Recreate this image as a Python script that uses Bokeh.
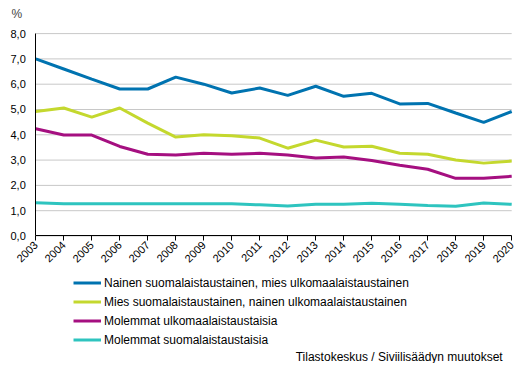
from bokeh.plotting import figure
from bokeh.models import Range1d, FixedTicker, Legend, LegendItem, Label, CustomJSTickFormatter, AllLabels
from bokeh.embed import file_html
from bokeh.resources import INLINE
import math

years = list(range(2003, 2021))
nainen_suomi = [7.0, 6.6, 6.2, 5.81, 5.81, 6.28, 6.0, 5.65, 5.85, 5.56, 5.92, 5.52, 5.64, 5.22, 5.24, 4.86, 4.49, 4.92]
mies_suomi = [4.92, 5.06, 4.7, 5.06, 4.46, 3.91, 4.0, 3.96, 3.87, 3.47, 3.79, 3.52, 3.55, 3.27, 3.23, 3.0, 2.88, 2.96]
molemmat_ulko = [4.24, 3.99, 3.99, 3.54, 3.23, 3.2, 3.27, 3.23, 3.27, 3.2, 3.08, 3.12, 2.98, 2.8, 2.64, 2.28, 2.28, 2.36]
molemmat_suomi = [1.31, 1.27, 1.27, 1.27, 1.27, 1.27, 1.27, 1.27, 1.23, 1.19, 1.25, 1.25, 1.29, 1.25, 1.21, 1.18, 1.3, 1.25]
names = ["Nainen suomalaistaustainen, mies ulkomaalaistaustainen",
         "Mies suomalaistaustainen, nainen ulkomaalaistaustainen",
         "Molemmat ulkomaalaistaustaisia",
         "Molemmat suomalaistaustaisia"]
colors = ["#0073b0", "#c4d82e", "#a50f80", "#2ec4bf"]
y_ticks = [0, 1, 2, 3, 4, 5, 6, 7, 8]
source_text = "Tilastokeskus / Siviilisäädyn muutokset"

FONT = "Liberation Sans"
# the frame is widened/extended so the legend, source and tick labels sit inside it
X_MIN, X_MAX = 2001.74, 2020.35
Y_MIN, Y_MAX = -5.04, 8.32

p = figure(width=521, height=370, output_backend="svg", toolbar_location=None,
           x_range=Range1d(X_MIN, X_MAX), y_range=Range1d(Y_MIN, Y_MAX),
           min_border_left=0, min_border_right=0, min_border_top=10, min_border_bottom=0,
           frame_width=521, frame_height=338)
p.outline_line_color = None
p.background_fill_color = "white"

p.title.text = "%"
p.title.align = "left"
p.title.offset = 11
p.title.text_font = FONT
p.title.text_font_size = "12px"
p.title.text_font_style = "normal"
p.title.standoff = 9

# horizontal grid lines between first and last year
p.segment(x0=years[0], x1=years[-1], y0=y_ticks, y1=y_ticks, line_color="#c8c8c8", line_width=1)

series = [nainen_suomi, mies_suomi, molemmat_ulko, molemmat_suomi]
renderers = []
for vals, c in zip(series, colors):
    r = p.line(years, vals, line_color=c, line_width=3)
    renderers.append(r)

p.xaxis.fixed_location = 0
p.xaxis.bounds = (years[0], years[-1])
p.xaxis.ticker = FixedTicker(ticks=years)
p.xaxis.major_label_orientation = math.pi / 4
p.xaxis.major_label_text_font = FONT
p.xaxis.major_label_text_font_size = "11px"
p.xaxis.major_label_text_color = "black"
p.xaxis.axis_line_color = "black"
p.xaxis.major_tick_line_color = "black"
p.xaxis.major_tick_out = 5
p.xaxis.major_tick_in = 0
p.xaxis.minor_tick_line_color = None
p.xaxis.major_label_standoff = 2
p.xaxis.major_label_policy = AllLabels()

p.yaxis.fixed_location = years[0]
p.yaxis.bounds = (y_ticks[0], y_ticks[-1])
p.yaxis.ticker = FixedTicker(ticks=y_ticks)
p.yaxis.formatter = CustomJSTickFormatter(code="return tick.toFixed(1).replace('.', ',');")
p.yaxis.major_label_policy = AllLabels()
p.yaxis.major_label_text_font = FONT
p.yaxis.major_label_text_font_size = "11px"
p.yaxis.major_label_text_color = "black"
p.yaxis.axis_line_color = "black"
p.yaxis.major_tick_line_color = None
p.yaxis.minor_tick_line_color = None
p.yaxis.major_label_standoff = 4

p.xgrid.grid_line_color = None
p.ygrid.grid_line_color = None

legend = Legend(items=[LegendItem(label=n, renderers=[r]) for n, r in zip(names, renderers)],
                location=(73, 14), orientation="vertical",
                label_text_font=FONT, label_text_font_size="12px", label_text_color="black",
                glyph_width=28, glyph_height=19, label_height=19, spacing=0,
                label_standoff=3, padding=0, margin=0,
                border_line_color=None, background_fill_alpha=0)
p.add_layout(legend, "center")

src = Label(x=years[-1], y=Y_MIN, x_offset=-9, y_offset=0, text=source_text,
            text_align="right", text_baseline="bottom",
            text_font=FONT, text_font_size="12px", text_color="black")
p.add_layout(src)

open("out.html", "w").write(file_html(p, INLINE))
